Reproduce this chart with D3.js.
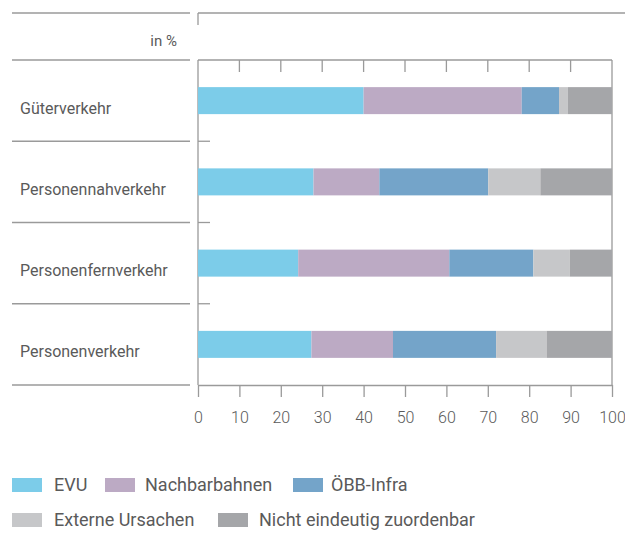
<!DOCTYPE html>
<html>
<head>
<meta charset="utf-8">
<script src="https://cdnjs.cloudflare.com/ajax/libs/d3/7.8.5/d3.min.js"></script>
<style>
html,body{margin:0;padding:0;background:#fff;}
svg{display:block;}
text{font-family:Roboto,"Open Sans",sans-serif;fill:#5a5a5a;}
</style>
</head>
<body>
<svg id="chart" width="625" height="560"></svg>
<script>
const categories = ["Güterverkehr","Personennahverkehr","Personenfernverkehr","Personenverkehr"];
const seriesNames = ["EVU","Nachbarbahnen","ÖBB-Infra","Externe Ursachen","Nicht eindeutig zuordenbar"];
const seriesColors = ["#7ccce9","#bcaac4","#74a4c9","#c6c7c9","#a5a6a9"];
const evu = [40, 27.9, 24.2, 27.4];
const nachbarbahnen = [38.2, 15.9, 36.5, 19.7];
const oebbInfra = [9, 26.3, 20.3, 24.9];
const externe = [2.1, 12.6, 8.8, 12.2];
const nichtZuordenbar = [10.7, 17.3, 10.2, 15.8];
const xTicks = [0,10,20,30,40,50,60,70,80,90,100];
const unitLabel = "in %";

const svg = d3.select("#chart");
const lineColor = "#9a9a9a";
const x = d3.scaleLinear().domain([0,100]).range([198,612]);
const y = d3.scaleBand().domain(categories).range([60,385]);
const barH = 27;

const table = categories.map((c,i)=>({cat:c, s0:evu[i], s1:nachbarbahnen[i], s2:oebbInfra[i], s3:externe[i], s4:nichtZuordenbar[i]}));
const keys = ["s0","s1","s2","s3","s4"];
const stacked = d3.stack().keys(keys)(table);

// left separator lines
const sepYs = [13, 60].concat(categories.map(c=>y(c)+y.bandwidth()));
svg.append("g").selectAll("line").data(sepYs).join("line")
  .attr("x1",12).attr("x2",190).attr("y1",d=>d).attr("y2",d=>d)
  .attr("stroke",lineColor).attr("stroke-width",1.3);

// top line
svg.append("line").attr("x1",x(0)).attr("x2",625).attr("y1",13).attr("y2",13)
  .attr("stroke",lineColor).attr("stroke-width",1.3);
svg.append("line").attr("x1",x(0)).attr("x2",x(0)).attr("y1",13).attr("y2",25)
  .attr("stroke",lineColor).attr("stroke-width",1.3);

// unit label
svg.append("text").attr("x",177).attr("y",46).attr("text-anchor","end")
  .style("font-size","15px").text(unitLabel);

// top frame line with inward ticks
svg.append("line").attr("x1",x(0)).attr("x2",x(100)).attr("y1",60).attr("y2",60)
  .attr("stroke",lineColor).attr("stroke-width",1.3);
svg.append("g").selectAll("line").data(xTicks.slice(1,-1)).join("line")
  .attr("x1",d=>x(d)).attr("x2",d=>x(d)).attr("y1",60).attr("y2",72)
  .attr("stroke",lineColor).attr("stroke-width",1.3);

// frame verticals
[0,100].forEach(v=>{
  svg.append("line").attr("x1",x(v)).attr("x2",x(v)).attr("y1",60).attr("y2",385)
    .attr("stroke",lineColor).attr("stroke-width",1.3);
});

// inner separator ticks
svg.append("g").selectAll("line").data(categories.slice(0,-1)).join("line")
  .attr("x1",x(0)).attr("x2",x(0)+12)
  .attr("y1",d=>y(d)+y.bandwidth()).attr("y2",d=>y(d)+y.bandwidth())
  .attr("stroke",lineColor).attr("stroke-width",1.3);

// bars
svg.append("g").selectAll("g").data(stacked).join("g")
  .attr("fill",(d,i)=>seriesColors[i])
  .selectAll("rect").data(d=>d).join("rect")
  .attr("x",d=>x(d[0]))
  .attr("width",d=>x(d[1])-x(d[0]))
  .attr("y",d=>y(d.data.cat)+y.bandwidth()/2-barH/2)
  .attr("height",barH);

// category labels
svg.append("g").selectAll("text").data(categories).join("text")
  .attr("x",20).attr("y",d=>y(d)+y.bandwidth()/2+13)
  .style("font-size","16px").text(d=>d);

// bottom axis
const bottomAxis = d3.axisBottom(x).tickValues(xTicks).tickSize(12).tickSizeOuter(0).tickPadding(15);
const gBot = svg.append("g").attr("transform","translate(0,385)").call(bottomAxis);
gBot.selectAll("line").attr("stroke",lineColor).attr("stroke-width",1.3);
gBot.select(".domain").attr("stroke",lineColor).attr("stroke-width",1.3);
gBot.selectAll("text").style("font-family","Roboto,sans-serif").style("font-size","16px").style("font-weight","300").attr("fill","#5a5a5a");

// legend
const legendItems = [
  {i:0, sx:12, tx:54, cy:485},
  {i:1, sx:105, tx:145, cy:485},
  {i:2, sx:293, tx:331, cy:485},
  {i:3, sx:12, tx:54, cy:520},
  {i:4, sx:218, tx:259, cy:520}
];
const lg = svg.append("g").selectAll("g").data(legendItems).join("g");
lg.append("rect").attr("x",d=>d.sx).attr("y",d=>d.cy-7).attr("width",30).attr("height",14)
  .attr("fill",d=>seriesColors[d.i]);
lg.append("text").attr("x",d=>d.tx).attr("y",d=>d.cy+6)
  .style("font-size","18px").text(d=>seriesNames[d.i]);
</script>
</body>
</html>
